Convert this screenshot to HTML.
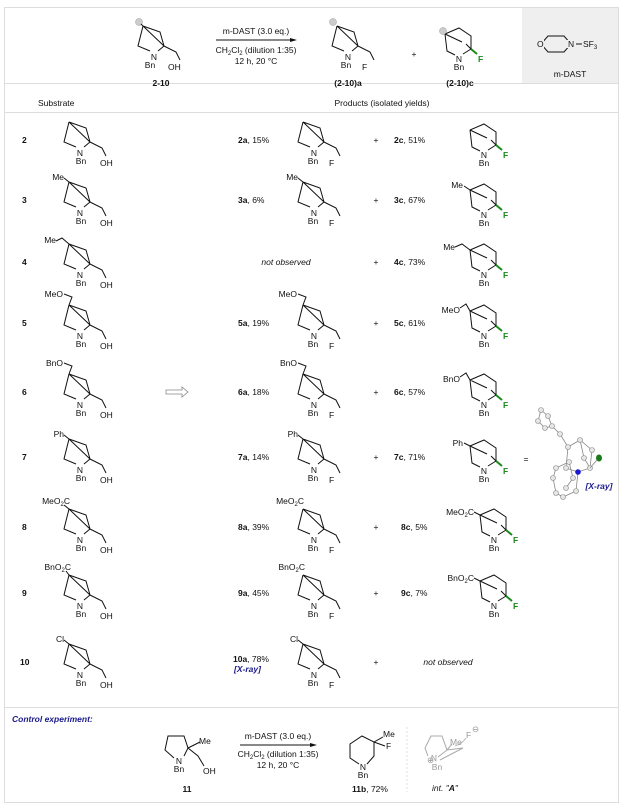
<!DOCTYPE html>
<html><head><meta charset="utf-8"><style>
html,body{margin:0;padding:0;background:#fff}
svg{display:block}
text{font-family:"Liberation Sans",sans-serif;font-size:8.5px;fill:#111}
.b{font-weight:bold}
.i{font-style:italic}
.g{fill:#1a8a1a}
.bl{fill:#1a1a8c;font-weight:bold;font-style:italic}
.gr{fill:#999}
</style></head><body>
<svg width="625" height="811" viewBox="0 0 625 811" xmlns="http://www.w3.org/2000/svg">
<defs>
<g id="S" fill="none" stroke="#111" stroke-width="1">
<path d="M-11,-28 L6,-22 L10,-8 M-11,-28 L-16,-8 L-4,-3 M4,-3 L10,-8 M-11,-28 L10,-8 M10,-8 L22,-2 L26,6"/>
</g>
<g id="C" fill="none" stroke="#111" stroke-width="1">
<path d="M-14,-22 L0,-28 L12,-20 L12,-7 M-14,-22 L-12,-5 L-4,-1 M4,-2 L12,-7 M-14,-22 L3,-14 M7,-12 L12,-7"/>
<path d="M12,-7 L18,-2" stroke="#1a8a1a" stroke-width="2"/>
</g>
<g id="O" fill="#ddd" stroke="#888" stroke-width="0.6"><circle r="3"/></g>
</defs>

<rect x="4.5" y="7.5" width="614" height="795" fill="none" stroke="#ddd"/>
<rect x="522" y="8" width="96" height="75" fill="#efefef"/>
<line x1="5" y1="83.5" x2="618" y2="83.5" stroke="#ddd"/>
<line x1="5" y1="112.5" x2="618" y2="112.5" stroke="#ddd"/>
<line x1="5" y1="707.5" x2="618" y2="707.5" stroke="#ddd"/>

<!-- header -->
<use href="#S" x="154" y="54"/><circle cx="139" cy="22" r="3.5" fill="#ccc" stroke="#999" stroke-width="0.5"/><line x1="141" y1="24" x2="143" y2="26" stroke="#111"/>
<text x="154" y="60" text-anchor="middle">N</text><text x="150" y="68" text-anchor="middle">Bn</text><text x="168" y="70">OH</text>
<text x="161" y="86" class="b" text-anchor="middle">2-10</text>
<line x1="216" y1="40" x2="294" y2="40" stroke="#111"/><path d="M297,40 L290,38 L290,42Z" fill="#111"/>
<text x="256" y="34" text-anchor="middle">m-DAST (3.0 eq.)</text>
<text x="256" y="53" text-anchor="middle">CH<tspan font-size="6" dy="2">2</tspan><tspan dy="-2">Cl</tspan><tspan font-size="6" dy="2">2</tspan><tspan dy="-2"> (dilution 1:35)</tspan></text>
<text x="256" y="64" text-anchor="middle">12 h, 20 °C</text>
<use href="#S" x="348" y="54"/><circle cx="333" cy="22" r="3.5" fill="#ccc" stroke="#999" stroke-width="0.5"/>
<text x="348" y="60" text-anchor="middle">N</text><text x="346" y="68" text-anchor="middle">Bn</text><text x="362" y="70">F</text>
<text x="348" y="86" class="b" text-anchor="middle">(2-10)a</text>
<text x="414" y="57" text-anchor="middle">+</text>
<use href="#C" x="459" y="56"/><circle cx="443" cy="31" r="3.5" fill="#ccc" stroke="#999" stroke-width="0.5"/>
<text x="459" y="62" text-anchor="middle">N</text><text x="459" y="70" text-anchor="middle">Bn</text><text x="478" y="62" class="g b">F</text>
<text x="460" y="86" class="b" text-anchor="middle">(2-10)c</text>
<path d="M541,44 L548,36 L564,36 L571,44 L564,52 L548,52Z M541,44" fill="none" stroke="#111"/>
<rect x="536" y="40" width="8" height="8" fill="#efefef"/><text x="537" y="47">O</text>
<rect x="567" y="40" width="9" height="8" fill="#efefef"/><text x="568" y="47">N</text>
<line x1="576" y1="44" x2="582" y2="44" stroke="#111"/><text x="583" y="47">SF<tspan font-size="6" dy="2">3</tspan></text>
<text x="570" y="77" text-anchor="middle">m-DAST</text>

<text x="38" y="106">Substrate</text>
<text x="382" y="106" text-anchor="middle">Products (isolated yields)</text>

<!-- row 2 -->
<text x="22" y="143" class="b">2</text>
<use href="#S" x="80" y="150"/><text x="80" y="156" text-anchor="middle">N</text><text x="81" y="164" text-anchor="middle">Bn</text><text x="100" y="166">OH</text>
<text x="238" y="143"><tspan class="b">2a</tspan>, 15%</text>
<use href="#S" x="314" y="150"/><text x="314" y="156" text-anchor="middle">N</text><text x="313" y="164" text-anchor="middle">Bn</text><text x="329" y="166">F</text>
<text x="376" y="143" text-anchor="middle">+</text>
<text x="394" y="143"><tspan class="b">2c</tspan>, 51%</text>
<use href="#C" x="484" y="152"/><text x="484" y="158" text-anchor="middle">N</text><text x="484" y="166" text-anchor="middle">Bn</text><text x="503" y="158" class="g b">F</text>

<!-- rows generic -->
<!-- row 3 -->
<text x="22" y="203" class="b">3</text>
<use href="#S" x="80" y="210"/><line x1="69" y1="182" x2="64" y2="178" stroke="#111"/><text x="64" y="180" text-anchor="end">Me</text>
<text x="80" y="216" text-anchor="middle">N</text><text x="81" y="224" text-anchor="middle">Bn</text><text x="100" y="226">OH</text>
<text x="238" y="203"><tspan class="b">3a</tspan>, 6%</text>
<use href="#S" x="314" y="210"/><line x1="303" y1="182" x2="298" y2="178" stroke="#111"/><text x="298" y="180" text-anchor="end">Me</text>
<text x="314" y="216" text-anchor="middle">N</text><text x="313" y="224" text-anchor="middle">Bn</text><text x="329" y="226">F</text>
<text x="376" y="203" text-anchor="middle">+</text>
<text x="394" y="203"><tspan class="b">3c</tspan>, 67%</text>
<use href="#C" x="484" y="212"/><line x1="470" y1="190" x2="464" y2="186" stroke="#111"/><text x="463" y="188" text-anchor="end">Me</text>
<text x="484" y="218" text-anchor="middle">N</text><text x="484" y="226" text-anchor="middle">Bn</text><text x="503" y="218" class="g b">F</text>

<!-- row 4 -->
<text x="22" y="265" class="b">4</text>
<use href="#S" x="80" y="272"/><path d="M69,244 L62,238 L56,241" fill="none" stroke="#111"/><text x="56" y="243" text-anchor="end">Me</text>
<text x="80" y="278" text-anchor="middle">N</text><text x="81" y="286" text-anchor="middle">Bn</text><text x="100" y="288">OH</text>
<text x="286" y="265" class="i" text-anchor="middle">not observed</text>
<text x="376" y="265" text-anchor="middle">+</text>
<text x="394" y="265"><tspan class="b">4c</tspan>, 73%</text>
<use href="#C" x="484" y="272"/><path d="M470,250 L462,244 L455,247" fill="none" stroke="#111"/><text x="455" y="250" text-anchor="end">Me</text>
<text x="484" y="278" text-anchor="middle">N</text><text x="484" y="286" text-anchor="middle">Bn</text><text x="503" y="278" class="g b">F</text>

<!-- row 5 -->
<text x="22" y="326" class="b">5</text>
<use href="#S" x="80" y="333"/><path d="M69,305 L72,297 L64,294" fill="none" stroke="#111"/><text x="63" y="297" text-anchor="end">MeO</text>
<text x="80" y="339" text-anchor="middle">N</text><text x="81" y="347" text-anchor="middle">Bn</text><text x="100" y="349">OH</text>
<text x="238" y="326"><tspan class="b">5a</tspan>, 19%</text>
<use href="#S" x="314" y="333"/><path d="M303,305 L306,297 L298,294" fill="none" stroke="#111"/><text x="297" y="297" text-anchor="end">MeO</text>
<text x="314" y="339" text-anchor="middle">N</text><text x="313" y="347" text-anchor="middle">Bn</text><text x="329" y="349">F</text>
<text x="376" y="326" text-anchor="middle">+</text>
<text x="394" y="326"><tspan class="b">5c</tspan>, 61%</text>
<use href="#C" x="484" y="333"/><path d="M470,311 L466,304 L460,308" fill="none" stroke="#111"/><text x="460" y="313" text-anchor="end">MeO</text>
<text x="484" y="339" text-anchor="middle">N</text><text x="484" y="347" text-anchor="middle">Bn</text><text x="503" y="339" class="g b">F</text>

<!-- row 6 -->
<text x="22" y="395" class="b">6</text>
<use href="#S" x="80" y="402"/><path d="M69,374 L72,366 L64,363" fill="none" stroke="#111"/><text x="63" y="366" text-anchor="end">BnO</text>
<text x="80" y="408" text-anchor="middle">N</text><text x="81" y="416" text-anchor="middle">Bn</text><text x="100" y="418">OH</text>
<path d="M166,390 L182,390 L182,387 L188,392 L182,397 L182,394 L166,394Z" fill="none" stroke="#888" stroke-width="0.8"/>
<text x="238" y="395"><tspan class="b">6a</tspan>, 18%</text>
<use href="#S" x="314" y="402"/><path d="M303,374 L306,366 L298,363" fill="none" stroke="#111"/><text x="297" y="366" text-anchor="end">BnO</text>
<text x="314" y="408" text-anchor="middle">N</text><text x="313" y="416" text-anchor="middle">Bn</text><text x="329" y="418">F</text>
<text x="376" y="395" text-anchor="middle">+</text>
<text x="394" y="395"><tspan class="b">6c</tspan>, 57%</text>
<use href="#C" x="484" y="402"/><path d="M470,380 L466,373 L460,377" fill="none" stroke="#111"/><text x="460" y="382" text-anchor="end">BnO</text>
<text x="484" y="408" text-anchor="middle">N</text><text x="484" y="416" text-anchor="middle">Bn</text><text x="503" y="408" class="g b">F</text>

<!-- row 7 -->
<text x="22" y="460" class="b">7</text>
<use href="#S" x="80" y="467"/><line x1="69" y1="439" x2="64" y2="435" stroke="#111"/><text x="64" y="437" text-anchor="end">Ph</text>
<text x="80" y="473" text-anchor="middle">N</text><text x="81" y="481" text-anchor="middle">Bn</text><text x="100" y="483">OH</text>
<text x="238" y="460"><tspan class="b">7a</tspan>, 14%</text>
<use href="#S" x="314" y="467"/><line x1="303" y1="439" x2="298" y2="435" stroke="#111"/><text x="298" y="437" text-anchor="end">Ph</text>
<text x="314" y="473" text-anchor="middle">N</text><text x="313" y="481" text-anchor="middle">Bn</text><text x="329" y="483">F</text>
<text x="376" y="460" text-anchor="middle">+</text>
<text x="394" y="460"><tspan class="b">7c</tspan>, 71%</text>
<use href="#C" x="484" y="468"/><line x1="470" y1="446" x2="464" y2="443" stroke="#111"/><text x="463" y="446" text-anchor="end">Ph</text>
<text x="484" y="474" text-anchor="middle">N</text><text x="484" y="482" text-anchor="middle">Bn</text><text x="503" y="474" class="g b">F</text>
<text x="526" y="462" fill="#aaa" text-anchor="middle">=</text>
<!-- X-ray ortep -->
<g stroke="#888" stroke-width="0.8" fill="none">
<path d="M541,410 L548,416 L552,426 L560,434 L568,447 M541,410 L538,421 L545,428 L552,426 M568,447 L580,440 L592,450 L590,468 L578,472 L576,491 M568,447 L566,468 L578,472 M580,440 L584,458 L590,468 M576,491 L563,497 L556,493 L553,478 L556,468 L569,462 L573,478 L566,488"/>
</g>
<g fill="#e6e6e6" stroke="#888" stroke-width="0.6">
<circle cx="541" cy="410" r="2.5"/><circle cx="548" cy="416" r="2.5"/><circle cx="538" cy="421" r="2.5"/><circle cx="545" cy="428" r="2.5"/><circle cx="552" cy="426" r="2.5"/><circle cx="560" cy="434" r="2.5"/><circle cx="568" cy="447" r="2.5"/><circle cx="580" cy="440" r="2.5"/><circle cx="592" cy="450" r="2.5"/><circle cx="590" cy="468" r="2.5"/><circle cx="566" cy="468" r="2.5"/><circle cx="584" cy="458" r="2.5"/><circle cx="576" cy="491" r="2.5"/><circle cx="563" cy="497" r="2.5"/><circle cx="556" cy="493" r="2.5"/><circle cx="553" cy="478" r="2.5"/><circle cx="556" cy="468" r="2.5"/><circle cx="569" cy="462" r="2.5"/><circle cx="573" cy="478" r="2.5"/><circle cx="566" cy="488" r="2.5"/>
</g>
<circle cx="578" cy="472" r="2.8" fill="#1a1ad0"/><ellipse cx="599" cy="458" rx="3" ry="3.5" fill="#1a7a1a"/>
<line x1="590" y1="468" x2="597" y2="460" stroke="#888" stroke-width="0.8"/>
<text x="599" y="489" class="bl" text-anchor="middle" font-size="7.5">[X-ray]</text>

<!-- row 8 -->
<text x="22" y="530" class="b">8</text>
<use href="#S" x="80" y="537"/><line x1="69" y1="509" x2="64" y2="505" stroke="#111"/><text x="70" y="504" text-anchor="end">MeO<tspan font-size="6" dy="2">2</tspan><tspan dy="-2">C</tspan></text>
<text x="80" y="543" text-anchor="middle">N</text><text x="81" y="551" text-anchor="middle">Bn</text><text x="100" y="553">OH</text>
<text x="238" y="530"><tspan class="b">8a</tspan>, 39%</text>
<use href="#S" x="314" y="537"/><text x="304" y="504" text-anchor="end">MeO<tspan font-size="6" dy="2">2</tspan><tspan dy="-2">C</tspan></text>
<text x="314" y="543" text-anchor="middle">N</text><text x="313" y="551" text-anchor="middle">Bn</text><text x="329" y="553">F</text>
<text x="376" y="530" text-anchor="middle">+</text>
<text x="401" y="530"><tspan class="b">8c</tspan>, 5%</text>
<use href="#C" x="494" y="537"/><line x1="480" y1="515" x2="474" y2="512" stroke="#111"/><text x="474" y="515" text-anchor="end">MeO<tspan font-size="6" dy="2">2</tspan><tspan dy="-2">C</tspan></text>
<text x="494" y="543" text-anchor="middle">N</text><text x="494" y="551" text-anchor="middle">Bn</text><text x="513" y="543" class="g b">F</text>

<!-- row 9 -->
<text x="22" y="596" class="b">9</text>
<use href="#S" x="80" y="603"/><line x1="69" y1="575" x2="66" y2="571" stroke="#111"/><text x="71" y="570" text-anchor="end">BnO<tspan font-size="6" dy="2">2</tspan><tspan dy="-2">C</tspan></text>
<text x="80" y="609" text-anchor="middle">N</text><text x="81" y="617" text-anchor="middle">Bn</text><text x="100" y="619">OH</text>
<text x="238" y="596"><tspan class="b">9a</tspan>, 45%</text>
<use href="#S" x="314" y="603"/><text x="305" y="570" text-anchor="end">BnO<tspan font-size="6" dy="2">2</tspan><tspan dy="-2">C</tspan></text>
<text x="314" y="609" text-anchor="middle">N</text><text x="313" y="617" text-anchor="middle">Bn</text><text x="329" y="619">F</text>
<text x="376" y="596" text-anchor="middle">+</text>
<text x="401" y="596"><tspan class="b">9c</tspan>, 7%</text>
<use href="#C" x="494" y="603"/><line x1="480" y1="581" x2="474" y2="578" stroke="#111"/><text x="474" y="581" text-anchor="end">BnO<tspan font-size="6" dy="2">2</tspan><tspan dy="-2">C</tspan></text>
<text x="494" y="609" text-anchor="middle">N</text><text x="494" y="617" text-anchor="middle">Bn</text><text x="513" y="609" class="g b">F</text>

<!-- row 10 -->
<text x="20" y="665" class="b">10</text>
<use href="#S" x="80" y="672"/><line x1="69" y1="644" x2="64" y2="640" stroke="#111"/><text x="64" y="642" text-anchor="end">Cl</text>
<text x="80" y="678" text-anchor="middle">N</text><text x="81" y="686" text-anchor="middle">Bn</text><text x="100" y="688">OH</text>
<text x="233" y="662"><tspan class="b">10a</tspan>, 78%</text>
<text x="234" y="672" class="bl" font-size="8">[X-ray]</text>
<use href="#S" x="314" y="672"/><line x1="303" y1="644" x2="298" y2="640" stroke="#111"/><text x="298" y="642" text-anchor="end">Cl</text>
<text x="314" y="678" text-anchor="middle">N</text><text x="313" y="686" text-anchor="middle">Bn</text><text x="329" y="688">F</text>
<text x="376" y="665" text-anchor="middle">+</text>
<text x="448" y="665" class="i" text-anchor="middle">not observed</text>

<!-- control -->
<text x="12" y="722" class="bl" font-size="9">Control experiment:</text>
<path d="M174,758 L165,750 L168,736 L184,736 L188,748 L184,756" fill="none" stroke="#111"/>
<path d="M188,748 L200,742 M188,748 L198,756 L204,766" fill="none" stroke="#111"/>
<text x="179" y="764" text-anchor="middle">N</text><text x="179" y="772" text-anchor="middle">Bn</text><text x="199" y="744">Me</text><text x="203" y="774">OH</text>
<text x="187" y="792" class="b" text-anchor="middle">11</text>
<line x1="240" y1="745" x2="314" y2="745" stroke="#111"/><path d="M317,745 L310,743 L310,747Z" fill="#111"/>
<text x="278" y="739" text-anchor="middle">m-DAST (3.0 eq.)</text>
<text x="278" y="757" text-anchor="middle">CH<tspan font-size="6" dy="2">2</tspan><tspan dy="-2">Cl</tspan><tspan font-size="6" dy="2">2</tspan><tspan dy="-2"> (dilution 1:35)</tspan></text>
<text x="278" y="768" text-anchor="middle">12 h, 20 °C</text>
<path d="M359,764 L350,758 L350,744 L362,736 L374,742 L374,756 L367,764" fill="none" stroke="#111"/>
<path d="M374,742 L383,737 M374,742 L385,746" fill="none" stroke="#111"/>
<text x="363" y="770" text-anchor="middle">N</text><text x="363" y="778" text-anchor="middle">Bn</text><text x="383" y="737">Me</text><text x="386" y="749">F</text>
<text x="370" y="792" text-anchor="middle"><tspan class="b">11b</tspan>, 72%</text>
<line x1="407" y1="727" x2="407" y2="792" stroke="#ddd" stroke-dasharray="2,2"/>
<g stroke="#aaa" fill="none">
<path d="M428,756 L425,748 L431,736 L442,736 L447,750 L438,757 M447,750 L463,748 L440,760 M447,750 L452,744"/>
<path d="M466,738 Q462,744 455,746" stroke-width="0.7"/>
</g>
<text x="434" y="761" class="gr" text-anchor="middle">N</text><text x="427" y="763" class="gr" font-size="7">⊕</text>
<text x="437" y="770" class="gr" text-anchor="middle">Bn</text><text x="450" y="745" class="gr">Me</text>
<text x="466" y="738" class="gr">F</text><text x="472" y="732" class="gr" font-size="6">⊖</text>
<text x="445" y="791" class="i" text-anchor="middle">int. "<tspan class="b">A</tspan>"</text>
</svg>
</body></html>
